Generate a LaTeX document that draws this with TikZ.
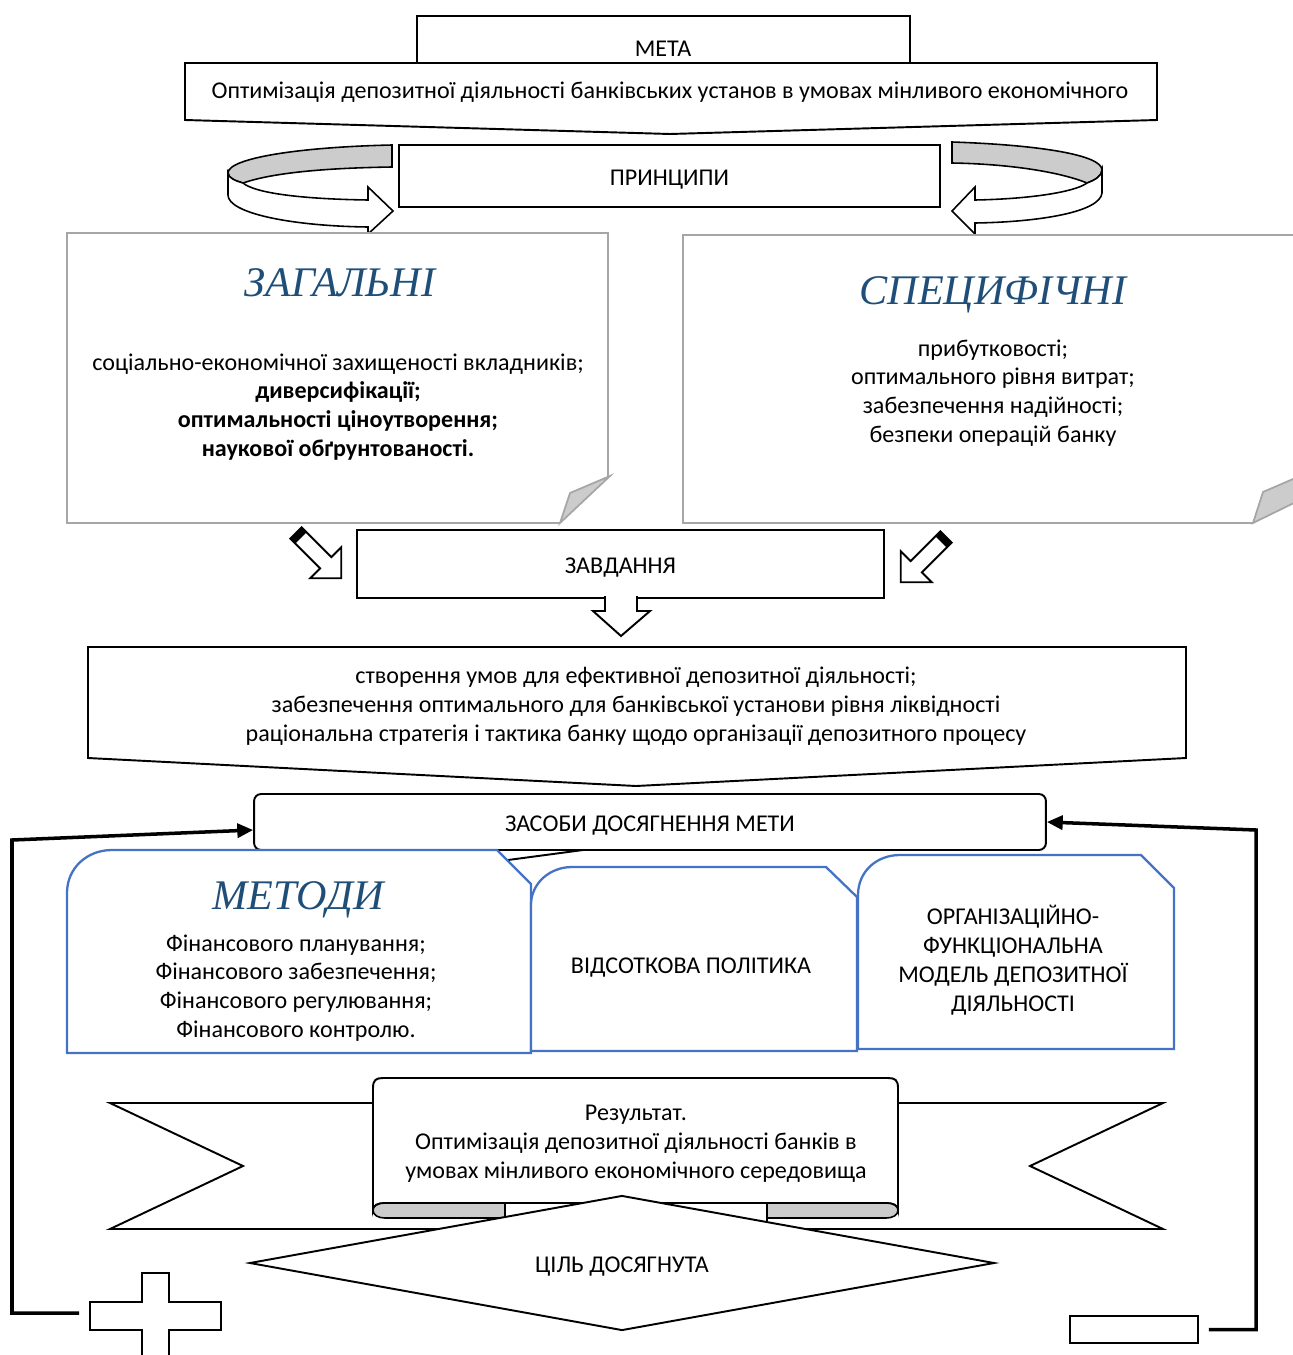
\documentclass[tikz,border=0pt]{standalone}
\usepackage{fontspec}
\setmainfont{Carlito}
\newfontfamily\titlefont{Liberation Serif}
\usetikzlibrary{arrows.meta,positioning,shapes.geometric}

\definecolor{titleblue}{RGB}{31,78,121}
\definecolor{cardblue}{RGB}{68,114,196}
\definecolor{cardgray}{RGB}{166,166,166}
\definecolor{foldgray}{RGB}{204,204,204}

\begin{document}
\begin{tikzpicture}[
  x=0.02cm, y=-0.02cm,
  font=\fontsize{13.7}{16.4}\selectfont,
  >={Triangle[length=9pt,width=8pt]},
  plainbox/.style={draw, line width=1.1pt, fill=white, inner sep=0pt, text height=13pt},
  txt/.style={align=center, inner sep=0pt},
  heading/.style={align=center, inner sep=0pt, text=titleblue,
    font=\titlefont\itshape\fontsize{24}{28}\selectfont},
  shapeline/.style={draw, line width=1.1pt, fill=white, line join=miter},
  graycard/.style={draw=cardgray, line width=1.4pt, fill=white},
  fold/.style={draw=cardgray, line width=1pt, fill=foldgray},
  bluecard/.style={draw=cardblue, line width=1.3pt, fill=white},
  ribbon/.style={draw, line width=0.9pt, fill=white},
  ribbonback/.style={draw, line width=0.9pt, fill=foldgray},
  feedback/.style={->, line width=2pt}
]
\useasboundingbox (0,0) rectangle (1293,1355);

% Goal
\draw[shapeline] (417,63) rectangle (910,16);
\node[txt] (meta) at (663,49) {МЕТА};
\draw[shapeline] (185,63) -- (1157,63) -- (1157,120) -- (670,134) -- (185,120) -- cycle;
\node[txt] (goal) at (670,92)
  {Оптимізація депозитної діяльності банківських установ в умовах мінливого економічного};

% Principles with the two turning arrows
\node[plainbox, minimum width=10.82cm, minimum height=1.24cm] (principles) at (669.5,176) {ПРИНЦИПИ};

\draw[ribbonback] (392,145) .. controls (300,147) and (228,158) .. (228,173)
  .. controls (228,178) and (236,181) .. (243,183)
  .. controls (275,172) and (330,168) .. (392,167) -- cycle;
\draw[ribbon] (228,173) -- (228,195) .. controls (228,213) and (290,226) .. (368,227)
  -- (368,234) -- (393,211) -- (368,187) -- (368,200)
  .. controls (300,199) and (255,193) .. (243,183)
  .. controls (236,181) and (228,178) .. (228,173) -- cycle;

\draw[ribbonback] (952,142) .. controls (1040,145) and (1102,155) .. (1102,170)
  .. controls (1102,176) and (1095,180) .. (1087,183)
  .. controls (1060,172) and (1010,164) .. (952,163) -- cycle;
\draw[ribbon] (1102,170) -- (1102,193) .. controls (1100,212) and (1040,222) .. (975,223)
  -- (975,234) -- (952,211) -- (975,187) -- (975,200)
  .. controls (1030,199) and (1075,192) .. (1087,183)
  .. controls (1095,180) and (1102,176) .. (1102,170) -- cycle;

% General principles card
\draw[graycard] (560,523) -- (67,523) -- (67,233) -- (608,233) -- (608,478);
\draw[fold] (560,523) -- (570,493) -- (610,476) -- cycle;
\node[heading] (general) at (340,283) {ЗАГАЛЬНІ};
\node[txt] (generallist) at (338,407)
  {соціально-економічної захищеності вкладників;\\
   \textbf{диверсифікації;}\\
   \textbf{оптимальності ціноутворення;}\\
   \textbf{наукової обґрунтованості.}};

% Specific principles card
\draw[graycard] (1253,523) -- (683,523) -- (683,235) -- (1300,235);
\draw[fold] (1253,523) -- (1263,492) -- (1300,476) -- (1300,500) -- cycle;
\node[heading] (specific) at (993,295) {СПЕЦИФІЧНІ};
\node[txt] (specificlist) at (993,393)
  {прибутковості;\\
   оптимального рівня витрат;\\
   забезпечення надійності;\\
   безпеки операцій банку};

% Small block arrows into the tasks
\begin{scope}[shift={(296,533)}, rotate=-45]
  \draw[shapeline] (0,-8) -- (42,-8) -- (42,-22) -- (64,0) -- (42,22) -- (42,8) -- (0,8) -- cycle;
  \fill (0,-8) rectangle (7,8);
\end{scope}
\begin{scope}[shift={(946,537)}, rotate=-135]
  \draw[shapeline] (0,-8) -- (42,-8) -- (42,-22) -- (64,0) -- (42,22) -- (42,8) -- (0,8) -- cycle;
  \fill (0,-8) rectangle (7,8);
\end{scope}

% Tasks
\node[plainbox, minimum width=10.54cm, minimum height=1.36cm] (tasks) at (620.5,564) {ЗАВДАННЯ};
\filldraw[shapeline] (605,596) -- (605,611) -- (593,611) -- (621,636) -- (650,611) -- (637,611) -- (637,596);

\draw[shapeline] (88,647) -- (1186,647) -- (1186,758) -- (636,786) -- (88,758) -- cycle;
\node[txt] (tasklist) at (636,706)
  {створення умов для ефективної депозитної діяльності;\\
   забезпечення оптимального для банківської установи рівня ліквідності\\
   раціональна стратегія і тактика банку щодо організації депозитного процесу};

% Means
\node[plainbox, rounded corners=4pt, minimum width=15.84cm, minimum height=1.12cm] (means) at (650,822)
  {ЗАСОБИ ДОСЯГНЕННЯ МЕТИ};
\draw[line width=1.1pt] (583,850) -- (508,860);

% Three blue cards
\draw[bluecard] (67,1053) -- (67,893) .. controls (67,868) and (87,850) .. (112,850)
  -- (497,850) -- (531,884) -- (531,1053) -- cycle;
\draw[bluecard] (531,1051) -- (531,905) .. controls (531,883) and (550,867) .. (572,867)
  -- (826,867) -- (857,897) -- (857,1051) -- cycle;
\draw[bluecard] (858,1049) -- (858,895) .. controls (858,872) and (876,855) .. (900,855)
  -- (1141,855) -- (1174,888) -- (1174,1049) -- cycle;

\node[heading] (methods) at (298,900) {МЕТОДИ};
\node[txt] (methodlist) at (296,988)
  {Фінансового планування;\\
   Фінансового забезпечення;\\
   Фінансового регулювання;\\
   Фінансового контролю.};
\node[txt] (interest) at (691,968) {ВІДСОТКОВА ПОЛІТИКА};
\node[txt] (orgmodel) at (1013,960)
  {ОРГАНІЗАЦІЙНО-\\ФУНКЦІОНАЛЬНА\\МОДЕЛЬ ДЕПОЗИТНОЇ\\ДІЯЛЬНОСТІ};

% Result banner
\draw[shapeline] (505,1210) -- (505,1229) -- (110,1229) -- (243,1166) -- (110,1103) -- (373,1103);
\draw[shapeline] (767,1210) -- (767,1229) -- (1163,1229) -- (1030,1166) -- (1163,1103) -- (898,1103);
\draw[shapeline] (373,1210) -- (373,1088) .. controls (373,1080) and (376,1078) .. (383,1078)
  -- (888,1078) .. controls (895,1078) and (898,1080) .. (898,1088) -- (898,1210)
  .. controls (898,1205) and (893,1203) .. (886,1203) -- (385,1203)
  .. controls (378,1203) and (373,1205) .. (373,1210) -- cycle;
\draw[ribbonback] (505,1203) -- (385,1203) .. controls (378,1203) and (373,1206) .. (373,1210)
  .. controls (373,1215) and (378,1218) .. (385,1218) -- (505,1218) -- cycle;
\draw[ribbonback] (767,1203) -- (886,1203) .. controls (893,1203) and (898,1206) .. (898,1210)
  .. controls (898,1215) and (893,1218) .. (886,1218) -- (767,1218) -- cycle;
\node[txt] (result) at (636,1144)
  {Результат.\\
   Оптимізація депозитної діяльності банків в\\
   умовах мінливого економічного середовища};

% Decision
\node[draw, diamond, aspect=5.52, line width=1.1pt, fill=white, inner sep=0pt, text height=13pt,
  minimum width=14.9cm, minimum height=2.7cm] (reached) at (622,1263) {ЦІЛЬ ДОСЯГНУТА};

% Plus and minus outcomes
\filldraw[shapeline] (142,1360) -- (142,1330) -- (90,1330) -- (90,1302) -- (142,1302) -- (142,1273)
  -- (169,1273) -- (169,1302) -- (221,1302) -- (221,1330) -- (169,1330) -- (169,1360);
\coordinate (plus) at (79,1313);
\node[plainbox, minimum width=2.56cm, minimum height=0.54cm] (minus) at (1134,1329.5) {};

% Feedback loops
\draw[feedback] (plus) -- (12,1313) -- (12,840) -- ([yshift=-0.16cm]means.west);
\draw[feedback] ([xshift=0.2cm]minus.east) -| (1256,830) -- (means.east);

\end{tikzpicture}
\end{document}
